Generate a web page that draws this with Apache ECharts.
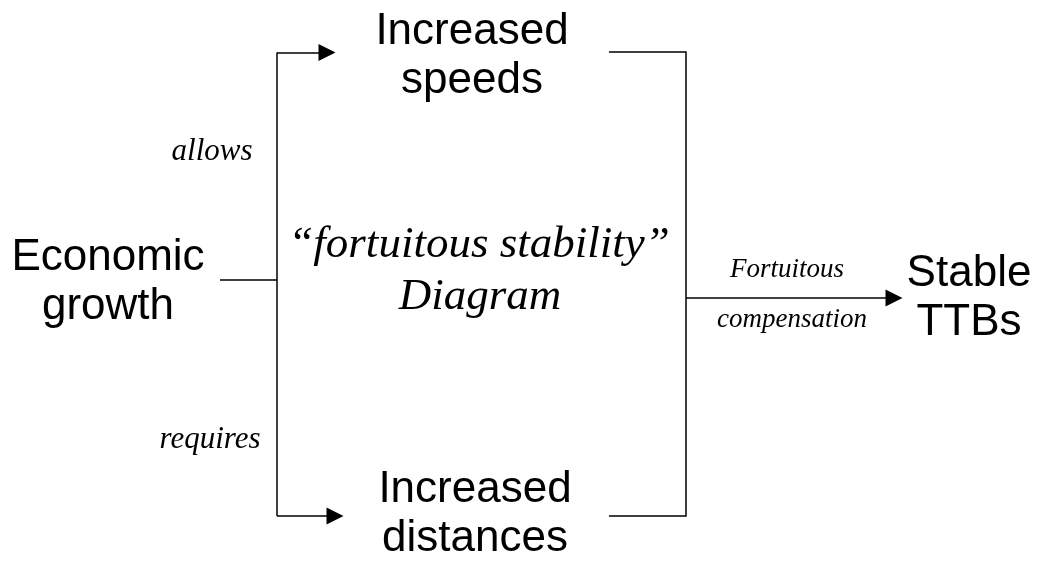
<!DOCTYPE html>
<html>
<head>
<meta charset="utf-8">
<title>fortuitous stability diagram</title>
<script src="https://cdn.jsdelivr.net/npm/echarts@6/dist/echarts.min.js"></script>
<style>
  html, body { margin: 0; padding: 0; background: #fff; }
  #main { width: 1042px; height: 563px; }
</style>
</head>
<body>
<div id="main"></div>
<script>
// diagram drawn on a hidden 1042 x 563 value grid (y grows downward)
var plainPaths = [
  [[220, 280], [277, 280]],
  [[277, 52.5], [277, 516]],
  [[609, 52], [686, 52], [686, 516], [609, 516]]
]
// triangle heads sit centred on the end point
var arrowPaths = [
  [[277, 52.5], [327, 52.5]],
  [[277, 516], [335, 516]],
  [[686, 298], [894, 298]]
]
var nodeLabels = [
  ['Increased\nspeeds', 472, 56],
  ['Increased\ndistances', 475, 514],
  ['Economic\ngrowth', 108, 282],
  ['Stable\nTTBs', 969, 298]
]
var linkLabels = [
  ['allows', 212, 152],
  ['requires', 210, 440]
]
var outLabels = [
  ['Fortuitous', 787, 270],
  ['compensation', 792, 320]
]
var titleLines = [
  ['\u201cfortuitous stability\u201d', 479, 245],
  ['Diagram', 480, 297]
]

function toPoints(rows) {
  return rows.map(function (r) {
    return { name: r[0], value: [r[1], r[2]] }
  })
}

var chart = echarts.init(document.getElementById('main'))

function textSeries(rows, label) {
  return {
    type: 'scatter',
    symbolSize: 0,
    silent: true,
    itemStyle: { opacity: 1 },
    data: toPoints(rows),
    label: Object.assign({
      show: true,
      position: 'inside',
      formatter: '{b}',
      color: '#000',
      opacity: 1,
      align: 'center',
      verticalAlign: 'middle'
    }, label)
  }
}

chart.setOption({
  backgroundColor: '#fff',
  animation: false,
  grid: { left: 0, right: 0, top: 0, bottom: 0 },
  xAxis: { type: 'value', min: 0, max: 1042, show: false },
  yAxis: { type: 'value', min: 0, max: 563, inverse: true, show: false },
  series: [
    {
      type: 'lines',
      coordinateSystem: 'cartesian2d',
      polyline: true,
      silent: true,
      lineStyle: { color: '#000', width: 1.5, opacity: 1 },
      data: plainPaths.map(function (p) { return { coords: p } })
    },
    {
      type: 'lines',
      coordinateSystem: 'cartesian2d',
      silent: true,
      symbol: ['none', 'triangle'],
      symbolSize: 17,
      itemStyle: { color: '#000' },
      lineStyle: { color: '#000', width: 1.5, opacity: 1 },
      data: arrowPaths.map(function (p) { return { coords: p } })
    },
    textSeries(nodeLabels, {
      fontFamily: 'Liberation Sans',
      fontSize: 44,
      lineHeight: 49
    }),
    textSeries(linkLabels, {
      fontFamily: 'Liberation Serif',
      fontStyle: 'italic',
      fontSize: 31
    }),
    textSeries(outLabels, {
      fontFamily: 'Liberation Serif',
      fontStyle: 'italic',
      fontSize: 27
    }),
    textSeries(titleLines, {
      fontFamily: 'Liberation Serif',
      fontStyle: 'italic',
      fontSize: 45,
      textShadowColor: '#9a9a9a',
      textShadowOffsetX: 2,
      textShadowOffsetY: 2,
      textShadowBlur: 0
    })
  ]
})
</script>
</body>
</html>
